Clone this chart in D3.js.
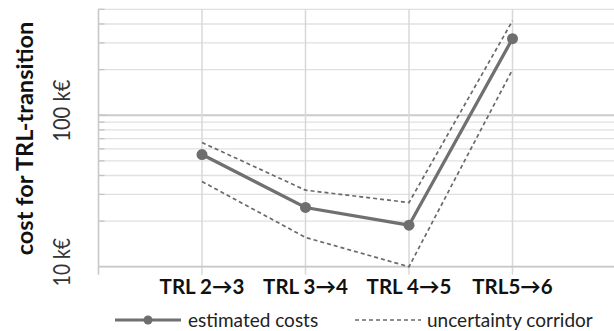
<!DOCTYPE html>
<html><head><meta charset="utf-8">
<script src="https://cdn.jsdelivr.net/npm/d3@7"></script>
<style>body{margin:0;background:#fff}svg{display:block;font-family:Lato,"Open Sans",sans-serif}</style>
</head><body><svg id="c" width="614" height="331"></svg>
<script>
const categories = ["TRL 2\u21923", "TRL 3\u21924", "TRL 4\u21925", "TRL5\u21926"];
const estimated = [55, 24.6, 18.8, 320];
const upper = [66, 32, 26.5, 420];
const lower = [36.5, 15.6, 10, 200];
const yLabelTicks = [10, 100];
const yTickLabels = ["10 k\u20ac", "100 k\u20ac"];
const yTitle = "cost for TRL-transition";
const legendLabels = ["estimated costs", "uncertainty corridor"];

const svg = d3.select("#c");
const L = 98.5, R = 616, T = 9.3, B = 266.7;
const x = d3.scalePoint().domain(categories).range([L, R]).padding(1);
const y = d3.scaleLog().domain([10, 500]).range([B, T]);

const grid = svg.append("g");
const yt = y.ticks();
yt.forEach(v => {
  const major = v === 100;
  grid.append("line").attr("x1", L).attr("x2", R).attr("y1", y(v)).attr("y2", y(v))
    .attr("stroke", major ? "#cbcbcb" : "#e0e0e0").attr("stroke-width", major ? 2 : 1.3);
  if (v !== 10) grid.append("line").attr("x1", L).attr("x2", major ? L + 8 : L + 6).attr("y1", y(v)).attr("y2", y(v))
    .attr("stroke", "#c4c4c4").attr("stroke-width", 1.3);
});
categories.forEach(c => {
  grid.append("line").attr("x1", x(c)).attr("x2", x(c)).attr("y1", T).attr("y2", B + 8)
    .attr("stroke", "#d8d8d8").attr("stroke-width", 1.5);
});
// axes
svg.append("line").attr("x1", L).attr("x2", L).attr("y1", T).attr("y2", B + 8).attr("stroke", "#c8c8c8").attr("stroke-width", 1.6);
svg.append("line").attr("x1", L).attr("x2", R).attr("y1", B).attr("y2", B).attr("stroke", "#c8c8c8").attr("stroke-width", 1.8);

// y tick labels
yLabelTicks.forEach((v, i) => {
  svg.append("text").attr("transform", `translate(70,${y(v) - 4.5}) rotate(-90)`)
    .attr("text-anchor", "middle").attr("font-size", 24).attr("fill", "#333")
    .attr("textLength", i === 0 ? 48 : 62).attr("lengthAdjust", "spacingAndGlyphs")
    .text(yTickLabels[i]);
});
svg.append("text").attr("transform", `translate(33,138.5) rotate(-90)`)
  .attr("text-anchor", "middle").attr("font-size", 23.5).attr("font-weight", "bold").attr("fill", "#111")
  .text(yTitle);

// x labels
categories.forEach(c => {
  svg.append("text").attr("x", x(c)).attr("y", 294).attr("text-anchor", "middle")
    .attr("font-size", 20.5).attr("font-weight", "bold").attr("fill", "#111").text(c);
});

const line = d3.line().x((d, i) => x(categories[i])).y(d => y(d));
svg.append("path").datum(upper).attr("d", line).attr("fill", "none").attr("stroke", "#6a6a6a")
  .attr("stroke-width", 1.7).attr("stroke-dasharray", "4,3");
svg.append("path").datum(lower).attr("d", line).attr("fill", "none").attr("stroke", "#6a6a6a")
  .attr("stroke-width", 1.7).attr("stroke-dasharray", "4,3");
svg.append("path").datum(estimated).attr("d", line).attr("fill", "none").attr("stroke", "#707070")
  .attr("stroke-width", 3.2);
svg.selectAll("circle.pt").data(estimated).enter().append("circle")
  .attr("cx", (d, i) => x(categories[i])).attr("cy", d => y(d)).attr("r", 5.5).attr("fill", "#6e6e6e");

// legend
const ly = 320;
svg.append("line").attr("x1", 115).attr("x2", 181).attr("y1", ly).attr("y2", ly).attr("stroke", "#707070").attr("stroke-width", 3.2);
svg.append("circle").attr("cx", 148).attr("cy", ly).attr("r", 4.5).attr("fill", "#6e6e6e");
svg.append("text").attr("x", 188).attr("y", ly + 7).attr("font-size", 19).attr("fill", "#222").text(legendLabels[0]);
svg.append("line").attr("x1", 355).attr("x2", 421).attr("y1", ly).attr("y2", ly).attr("stroke", "#6a6a6a")
  .attr("stroke-width", 1.4).attr("stroke-dasharray", "4,3");
svg.append("text").attr("x", 427).attr("y", ly + 7).attr("font-size", 19).attr("fill", "#222").text(legendLabels[1]);
</script></body></html>
